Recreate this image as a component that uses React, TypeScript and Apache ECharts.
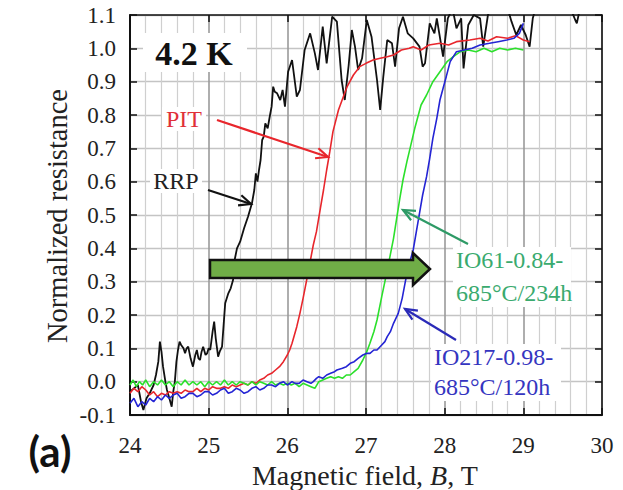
import React, { useEffect, useRef } from "react";
import * as echarts from "echarts";

const xTicks = [24, 25, 26, 27, 28, 29, 30];
const yMin = -0.1;
const yMax = 1.1;

const rrpData: [number, number][] = [
  [24.0, -0.03], [24.05, -0.02], [24.1, -0.01], [24.14, -0.06], [24.17, -0.085], [24.21, -0.05],
  [24.25, -0.035], [24.3, -0.01], [24.33, 0.02], [24.36, 0.06], [24.38, 0.12], [24.4, 0.09],
  [24.42, 0.045], [24.45, 0.0], [24.47, -0.025], [24.5, -0.05], [24.53, -0.075], [24.55, -0.03],
  [24.57, 0.0], [24.59, 0.06], [24.61, 0.095], [24.63, 0.12], [24.65, 0.11], [24.68, 0.1],
  [24.7, 0.085], [24.72, 0.1], [24.74, 0.105], [24.77, 0.07], [24.8, 0.045], [24.83, 0.08],
  [24.85, 0.095], [24.87, 0.07], [24.89, 0.065], [24.91, 0.09], [24.93, 0.105], [24.96, 0.08],
  [24.98, 0.085], [25.0, 0.1], [25.02, 0.095], [25.05, 0.15], [25.07, 0.18], [25.09, 0.13],
  [25.12, 0.075], [25.14, 0.09], [25.17, 0.105], [25.19, 0.17], [25.21, 0.235], [25.23, 0.25],
  [25.25, 0.265], [25.28, 0.28], [25.31, 0.305], [25.33, 0.365], [25.36, 0.4], [25.4, 0.42],
  [25.45, 0.46], [25.5, 0.495], [25.55, 0.535], [25.58, 0.575], [25.6, 0.625], [25.62, 0.6],
  [25.64, 0.635], [25.66, 0.665], [25.68, 0.725], [25.7, 0.735], [25.72, 0.775], [25.75, 0.76],
  [25.78, 0.8], [25.8, 0.825], [25.82, 0.885], [25.84, 0.87], [25.87, 0.865], [25.91, 0.845],
  [25.94, 0.875], [25.97, 0.825], [26.01, 0.93], [26.06, 0.965], [26.12, 0.855], [26.16, 0.875],
  [26.22, 0.995], [26.29, 1.045], [26.35, 0.985], [26.39, 0.935], [26.45, 1.065], [26.5, 0.955],
  [26.57, 1.095], [26.63, 1.08], [26.69, 0.905], [26.73, 0.845], [26.78, 0.95], [26.82, 1.055],
  [26.86, 1.005], [26.9, 0.935], [26.95, 0.97], [27.01, 1.085], [27.07, 1.035], [27.14, 0.905],
  [27.18, 0.815], [27.22, 0.915], [27.27, 1.025], [27.33, 1.015], [27.37, 0.945], [27.42, 1.06],
  [27.47, 1.095], [27.53, 1.045], [27.6, 1.03], [27.68, 1.005], [27.72, 0.945], [27.75, 0.955],
  [27.81, 1.075], [27.87, 1.045], [27.9, 1.09], [27.98, 0.975], [28.04, 1.09], [28.1, 1.12],
  [28.15, 1.06], [28.21, 1.09], [28.24, 0.94], [28.3, 1.07], [28.37, 1.1], [28.45, 1.09],
  [28.49, 1.005], [28.55, 1.1], [28.62, 1.13], [28.72, 1.14], [28.8, 1.12], [28.85, 1.08],
  [28.91, 1.04], [28.97, 1.07], [29.03, 1.04], [29.08, 1.005], [29.12, 1.09], [29.18, 1.14],
  [29.3, 1.15], [29.45, 1.14], [29.6, 1.12], [29.66, 1.085], [29.68, 1.075], [29.72, 1.12]
];

const pitData: [number, number][] = [
  [24.0, -0.035], [24.05, -0.02], [24.1, -0.03], [24.15, -0.015], [24.2, -0.025], [24.25, -0.04],
  [24.3, -0.03], [24.35, -0.045], [24.4, -0.035], [24.45, -0.04], [24.5, -0.03], [24.55, -0.035],
  [24.6, -0.03], [24.65, -0.035], [24.7, -0.025], [24.75, -0.03], [24.8, -0.03], [24.85, -0.02],
  [24.9, -0.03], [24.95, -0.02], [25.0, -0.025], [25.05, -0.015], [25.1, -0.02], [25.15, -0.02],
  [25.2, -0.015], [25.25, -0.02], [25.3, -0.01], [25.35, -0.015], [25.4, -0.01], [25.45, -0.005],
  [25.5, -0.01], [25.55, 0.0], [25.6, -0.005], [25.65, 0.005], [25.7, 0.01], [25.75, 0.02],
  [25.8, 0.025], [25.85, 0.035], [25.9, 0.045], [25.95, 0.06], [26.0, 0.08], [26.03, 0.095],
  [26.06, 0.115], [26.09, 0.14], [26.12, 0.165], [26.16, 0.205], [26.2, 0.25], [26.25, 0.31],
  [26.29, 0.36], [26.33, 0.41], [26.37, 0.45], [26.42, 0.52], [26.46, 0.575], [26.5, 0.635],
  [26.54, 0.69], [26.58, 0.75], [26.65, 0.815], [26.72, 0.86], [26.76, 0.885], [26.84, 0.92],
  [26.92, 0.945], [27.0, 0.955], [27.09, 0.965], [27.18, 0.97], [27.27, 0.975], [27.35, 0.98],
  [27.45, 0.995], [27.55, 1.0], [27.6, 1.005], [27.7, 0.995], [27.8, 1.01], [27.94, 1.015],
  [28.05, 1.01], [28.15, 1.02], [28.32, 1.025], [28.45, 1.03], [28.55, 1.022], [28.66, 1.035],
  [28.8, 1.03], [28.9, 1.038], [29.0, 1.025], [29.08, 1.02]
];

const io61Data: [number, number][] = [
  [24.0, -0.01], [24.04, 0.005], [24.08, -0.015], [24.12, 0.0], [24.16, -0.01], [24.2, 0.005],
  [24.25, -0.015], [24.3, 0.0], [24.35, -0.01], [24.4, 0.005], [24.45, -0.01], [24.5, 0.0],
  [24.55, -0.015], [24.6, 0.0], [24.65, -0.01], [24.7, 0.005], [24.75, -0.01], [24.8, 0.0],
  [24.85, -0.01], [24.9, 0.0], [24.95, -0.015], [25.0, 0.0], [25.05, -0.01], [25.1, 0.0],
  [25.15, -0.01], [25.2, 0.005], [25.25, -0.01], [25.3, 0.0], [25.35, -0.01], [25.4, 0.0],
  [25.45, -0.005], [25.5, -0.01], [25.55, 0.0], [25.6, -0.01], [25.65, 0.0], [25.7, -0.005],
  [25.75, -0.01], [25.8, 0.0], [25.85, -0.01], [25.9, -0.005], [25.95, -0.01], [26.0, -0.005],
  [26.05, -0.01], [26.1, -0.005], [26.15, -0.015], [26.2, -0.005], [26.25, -0.01], [26.3, -0.015],
  [26.35, -0.02], [26.4, 0.0], [26.45, 0.005], [26.5, 0.01], [26.55, 0.015], [26.6, 0.01],
  [26.65, 0.015], [26.7, 0.01], [26.75, 0.02], [26.8, 0.02], [26.85, 0.03], [26.9, 0.04],
  [26.96, 0.065], [27.01, 0.09], [27.05, 0.115], [27.1, 0.15], [27.14, 0.185], [27.2, 0.255],
  [27.24, 0.3], [27.27, 0.335], [27.3, 0.37], [27.35, 0.43], [27.39, 0.49], [27.43, 0.55],
  [27.47, 0.605], [27.52, 0.66], [27.56, 0.7], [27.62, 0.76], [27.7, 0.83], [27.77, 0.86],
  [27.85, 0.9], [27.94, 0.93], [28.03, 0.96], [28.11, 0.975], [28.2, 0.99], [28.3, 0.995],
  [28.4, 0.99], [28.5, 1.0], [28.6, 0.99], [28.7, 1.0], [28.8, 0.995], [28.9, 1.0], [29.0, 0.995]
];

const io217Data: [number, number][] = [
  [24.0, -0.065], [24.05, -0.05], [24.1, -0.075], [24.15, -0.06], [24.2, -0.07], [24.25, -0.05],
  [24.3, -0.06], [24.35, -0.045], [24.4, -0.055], [24.45, -0.04], [24.5, -0.05], [24.55, -0.04],
  [24.6, -0.035], [24.65, -0.05], [24.7, -0.045], [24.75, -0.035], [24.8, -0.035], [24.85, -0.045],
  [24.9, -0.04], [24.95, -0.03], [25.0, -0.03], [25.05, -0.04], [25.1, -0.035], [25.15, -0.025],
  [25.2, -0.02], [25.25, -0.035], [25.3, -0.03], [25.35, -0.02], [25.4, -0.025], [25.45, -0.035],
  [25.5, -0.03], [25.55, -0.02], [25.6, -0.015], [25.65, -0.025], [25.7, -0.02], [25.75, -0.01],
  [25.8, -0.01], [25.85, -0.015], [25.9, -0.005], [25.95, 0.0], [26.0, -0.01], [26.06, 0.0],
  [26.1, -0.005], [26.15, -0.005], [26.2, 0.005], [26.25, 0.0], [26.3, -0.005], [26.33, 0.0],
  [26.37, 0.01], [26.4, 0.015], [26.45, 0.01], [26.5, 0.02], [26.55, 0.025], [26.6, 0.03],
  [26.63, 0.035], [26.7, 0.04], [26.75, 0.045], [26.8, 0.055], [26.85, 0.06], [26.9, 0.07],
  [26.96, 0.08], [27.01, 0.085], [27.05, 0.085], [27.1, 0.095], [27.14, 0.095], [27.2, 0.11],
  [27.24, 0.12], [27.27, 0.135], [27.31, 0.15], [27.35, 0.175], [27.41, 0.205], [27.46, 0.25],
  [27.5, 0.3], [27.53, 0.335], [27.57, 0.37], [27.6, 0.395], [27.64, 0.45], [27.68, 0.505],
  [27.72, 0.56], [27.77, 0.615], [27.81, 0.67], [27.85, 0.73], [27.9, 0.79], [27.94, 0.845],
  [27.98, 0.88], [28.02, 0.915], [28.07, 0.96], [28.15, 0.99], [28.25, 0.995], [28.35, 1.0],
  [28.45, 1.01], [28.57, 1.015], [28.68, 1.02], [28.79, 1.025], [28.88, 1.03], [28.95, 1.045],
  [29.0, 1.075]
];

const SERIF = "Liberation Serif, Times New Roman, serif";

function arrow(x1: number, y1: number, x2: number, y2: number, color: string, hl = 13) {
  const a = Math.atan2(y2 - y1, x2 - x1);
  const p1 = [x2 - hl * Math.cos(a - 0.42), y2 - hl * Math.sin(a - 0.42)];
  const p2 = [x2 - hl * Math.cos(a + 0.42), y2 - hl * Math.sin(a + 0.42)];
  return [
    { type: "line", z: 100, shape: { x1, y1, x2, y2 }, style: { stroke: color, lineWidth: 2.2 } },
    {
      type: "polyline", z: 100,
      shape: { points: [p1, [x2, y2], p2] },
      style: { stroke: color, lineWidth: 2.2, fill: null },
    },
  ];
}

function whiteBox(x: number, y: number, w: number, h: number) {
  return { type: "rect", z: 99, shape: { x, y, width: w, height: h }, style: { fill: "#ffffff" } };
}

function label(text: string, x: number, y: number, color: string, size = 24, align = "left") {
  return {
    type: "text", z: 100, x, y,
    style: { text, fill: color, fontSize: size, fontFamily: SERIF, align, verticalAlign: "middle" },
  };
}

export default function App() {
  const ref = useRef<HTMLDivElement>(null);
  useEffect(() => {
    if (!ref.current) return;
    const chart = echarts.init(ref.current, null, { renderer: "svg" });
    const fmt = (v: number) => (Math.abs(v) < 1e-9 ? 0 : v).toFixed(1);
    const lineSeries = (name: string, data: [number, number][], color: string, w: number) => ({
      name, type: "line", data, showSymbol: false, symbol: "none", clip: true,
      lineStyle: { color, width: w }, xAxisIndex: 0, yAxisIndex: 0,
    });
    chart.setOption({
      animation: false,
      backgroundColor: "#ffffff",
      textStyle: { fontFamily: SERIF },
      grid: { left: 130, top: 15, width: 472, height: 400, containLabel: false },
      xAxis: [
        {
          type: "value", min: xTicks[0], max: xTicks[xTicks.length - 1], interval: 1,
          axisLine: { onZero: false, lineStyle: { color: "#111", width: 2 } },
          axisTick: { inside: true, length: 7, lineStyle: { color: "#111", width: 1.5 } },
          axisLabel: { fontSize: 23, fontFamily: SERIF, color: "#222", margin: 19 },
          splitLine: { show: true, lineStyle: { color: "#9a9a9a", width: 1.6 } },
          minorTick: { show: false, splitNumber: 5 },
          minorSplitLine: { show: true, lineStyle: { color: "#cfcfcf", width: 1.2 } },
        },
        {
          type: "value", position: "top", min: xTicks[0], max: xTicks[xTicks.length - 1], interval: 1,
          axisLine: { onZero: false, lineStyle: { color: "#111", width: 1.5 } },
          axisTick: { inside: true, length: 7, lineStyle: { color: "#111", width: 1.5 } },
          axisLabel: { show: false }, splitLine: { show: false },
        },
      ],
      yAxis: [
        {
          type: "value", min: yMin, max: yMax, interval: 0.1,
          axisLine: { onZero: false, lineStyle: { color: "#111", width: 2 } },
          axisTick: { inside: true, length: 7, lineStyle: { color: "#111", width: 1.5 } },
          axisLabel: { fontSize: 23, fontFamily: SERIF, color: "#222", margin: 14, formatter: fmt },
          splitLine: { show: true, lineStyle: { color: "#c4c4c4", width: 1.4 } },
        },
        {
          type: "value", position: "right", min: yMin, max: yMax, interval: 0.1,
          axisLine: { onZero: false, lineStyle: { color: "#111", width: 1.5 } },
          axisTick: { inside: true, length: 7, lineStyle: { color: "#111", width: 1.5 } },
          axisLabel: { show: false }, splitLine: { show: false },
        },
      ],
      series: [
        lineSeries("RRP", rrpData, "#111111", 1.8),
        lineSeries("PIT", pitData, "#e8262c", 1.6),
        lineSeries("IO61-0.84-685°C/234h", io61Data, "#2be02b", 1.6),
        lineSeries("IO217-0.98-685°C/120h", io217Data, "#2424d4", 1.6),
      ],
      graphic: [
        whiteBox(143, 33, 104, 39),
        {
          type: "text", z: 100, x: 194, y: 53,
          style: {
            text: "4.2 K", align: "center", verticalAlign: "middle", fontSize: 34,
            fontFamily: SERIF, fontWeight: "bold", fill: "#111",
          },
        },
        whiteBox(162, 107, 44, 24),
        label("PIT", 184, 119, "#e03038", 24, "center"),
        ...arrow(217, 120, 328, 157, "#e8262c"),
        whiteBox(150, 169, 52, 24),
        label("RRP", 176, 181, "#222", 24, "center"),
        ...arrow(208, 190, 251, 204, "#111"),
        whiteBox(453, 247, 118, 60),
        label("IO61-0.84-", 456, 260, "#3aaa6e"),
        label("685°C/234h", 456, 293, "#3aaa6e"),
        ...arrow(468, 244, 403, 210, "#2e9a66"),
        whiteBox(431, 344, 130, 57),
        label("IO217-0.98-", 434, 357, "#3535c0"),
        label("685°C/120h", 434, 387, "#3535c0"),
        ...arrow(456, 340, 405, 309, "#2a2ab8"),
        {
          type: "polygon", z: 101,
          shape: { points: [[210, 260], [413, 260], [413, 253], [430, 269], [413, 285], [413, 278], [210, 278]] },
          style: { fill: "#70ad47", stroke: "#111", lineWidth: 2.5 },
        },
        {
          type: "text", z: 100, x: 57, y: 216, rotation: Math.PI / 2,
          style: {
            text: "Normalized resistance", fill: "#222", fontSize: 28.5, fontFamily: SERIF,
            align: "center", verticalAlign: "middle",
          },
        },
        {
          type: "text", z: 100, x: 365, y: 475,
          style: {
            text: "Magnetic field, {i|B}, T", fill: "#222", fontSize: 28, fontFamily: SERIF,
            align: "center", verticalAlign: "middle",
            rich: { i: { fontStyle: "italic", fontSize: 28, fontFamily: SERIF, fill: "#222" } },
          },
        },
        {
          type: "text", z: 100, x: 50, y: 451,
          style: {
            text: "(a)", fill: "#111", fontSize: 42, fontWeight: "bold", fontFamily: "Lato, Open Sans, sans-serif",
            align: "center", verticalAlign: "middle",
          },
        },
      ],
    });
    return () => chart.dispose();
  }, []);
  return (
    <div
      ref={ref}
      style={{ position: "fixed", left: 0, top: 0, width: 623, height: 490, background: "#fff" }}
    />
  );
}
